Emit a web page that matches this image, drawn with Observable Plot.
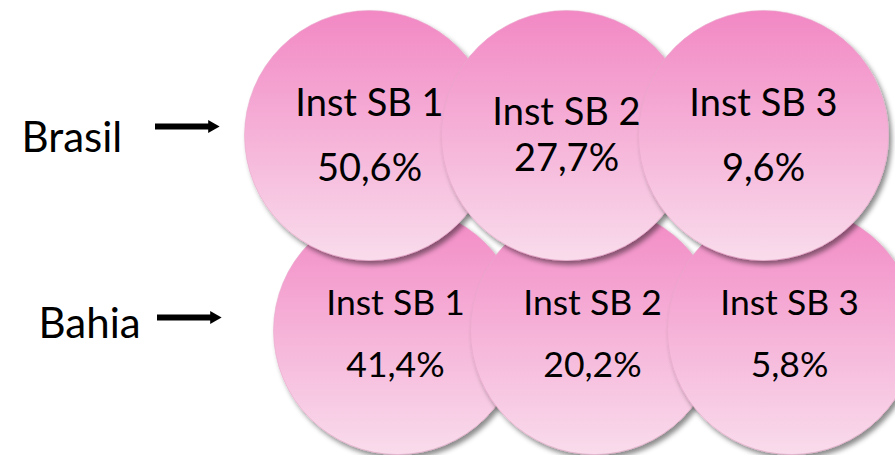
<!DOCTYPE html>
<html>
<head>
<meta charset="utf-8">
<script src="https://cdn.jsdelivr.net/npm/d3@7"></script>
<script src="https://cdn.jsdelivr.net/npm/@observablehq/plot@0.6"></script>
<style>
  html, body { margin: 0; padding: 0; background: white; }
  #chart { width: 895px; height: 455px; overflow: hidden; }
</style>
</head>
<body>
<svg width="0" height="0" style="position:absolute">
  <defs>
    <linearGradient id="pinkGrad" x1="0" y1="0" x2="0" y2="1">
      <stop offset="0%" stop-color="#F288C4"/>
      <stop offset="100%" stop-color="#F9DCEC"/>
    </linearGradient>
    <filter id="shadow" x="-20%" y="-20%" width="140%" height="140%">
      <feDropShadow dx="3" dy="4" stdDeviation="2.5" flood-color="#000" flood-opacity="0.45"/>
    </filter>
  </defs>
</svg>
<div id="chart"></div>
<script>
// Data
const regions = ["Brasil", "Bahia"];
const institutions = ["Inst SB 1", "Inst SB 2", "Inst SB 3"];
const brasilValues = [50.6, 27.7, 9.6];
const bahiaValues = [41.4, 20.2, 5.8];

const valuesByRegion = {Brasil: brasilValues, Bahia: bahiaValues};
const table = regions.flatMap(region =>
  institutions.map((inst, i) => ({region, inst, value: valuesByRegion[region][i]}))
);
const fmt = d => d.value.toFixed(1).replace(".", ",") + "%";

const isBrasil = d => d.region === "Brasil";
const isBahia = d => d.region === "Bahia";

const topDx = -14, botDx = 14;
const topFont = 38, botFont = 35.5;

const plot = Plot.plot({
  width: 895,
  height: 455,
  margin: 0,
  x: {type: "point", domain: institutions, range: [382, 777], padding: 0, axis: null},
  y: {type: "point", domain: regions, range: [135, 330], padding: 0, axis: null},
  style: {background: "white", fontFamily: "Lato, 'Open Sans', sans-serif", color: "black"},
  marks: [
    // bottom row circles
    Plot.dot(table, {filter: isBahia, x: "inst", y: "region", r: 124, dx: botDx,
      fill: "url(#pinkGrad)", stroke: "#e7a9cb", strokeWidth: 0.6}),
    // top row circles
    Plot.dot(table, {filter: isBrasil, x: "inst", y: "region", r: 125, dx: topDx,
      fill: "url(#pinkGrad)", stroke: "#e7a9cb", strokeWidth: 0.6}),

    // top row labels
    Plot.text(table, {filter: d => isBrasil(d) && d.inst !== "Inst SB 2", x: "inst", y: "region",
      text: "inst", dx: topDx, dy: -32, fontSize: topFont, fill: "black"}),
    Plot.text(table, {filter: d => isBrasil(d) && d.inst !== "Inst SB 2", x: "inst", y: "region",
      text: fmt, dx: topDx, dy: 33, fontSize: topFont, fill: "black"}),
    Plot.text(table, {filter: d => isBrasil(d) && d.inst === "Inst SB 2", x: "inst", y: "region",
      text: "inst", dx: topDx, dy: -23, fontSize: topFont, fill: "black"}),
    Plot.text(table, {filter: d => isBrasil(d) && d.inst === "Inst SB 2", x: "inst", y: "region",
      text: fmt, dx: topDx, dy: 23.5, fontSize: topFont, fill: "black"}),

    // bottom row labels
    Plot.text(table, {filter: isBahia, x: "inst", y: "region",
      text: "inst", dx: botDx - 2, dy: -26.5, fontSize: botFont, fill: "black"}),
    Plot.text(table, {filter: isBahia, x: "inst", y: "region",
      text: fmt, dx: botDx - 2, dy: 35, fontSize: botFont, fill: "black"}),

    // region labels
    Plot.text(regions, {filter: r => r === "Brasil", y: d => d, text: d => d, frameAnchor: "left",
      textAnchor: "start", dx: 21, dy: 3.5, fontSize: 42, fill: "black"}),
    Plot.text(regions, {filter: r => r === "Bahia", y: d => d, text: d => d, frameAnchor: "left",
      textAnchor: "start", dx: 38, dy: -6, fontSize: 42, fill: "black"}),

    // arrows: shaft
    Plot.ruleY(regions, {filter: r => r === "Brasil", y: d => d, insetLeft: 155, insetRight: 895 - 210,
      dy: -9, stroke: "black", strokeWidth: 6}),
    Plot.ruleY(regions, {filter: r => r === "Bahia", y: d => d, insetLeft: 157, insetRight: 895 - 212,
      dy: -13, stroke: "black", strokeWidth: 6}),
    // arrows: heads
    Plot.dot(regions, {filter: r => r === "Brasil", y: d => d, frameAnchor: "left", dx: 211.5, dy: -9,
      symbol: "triangle", rotate: 90, r: 4.9, fill: "black", stroke: "none"}),
    Plot.dot(regions, {filter: r => r === "Bahia", y: d => d, frameAnchor: "left", dx: 213.5, dy: -13,
      symbol: "triangle", rotate: 90, r: 4.9, fill: "black", stroke: "none"})
  ]
});

// drop shadow on each circle
d3.select(plot).selectAll("circle").attr("filter", "url(#shadow)");

document.getElementById("chart").appendChild(plot);
</script>
</body>
</html>
